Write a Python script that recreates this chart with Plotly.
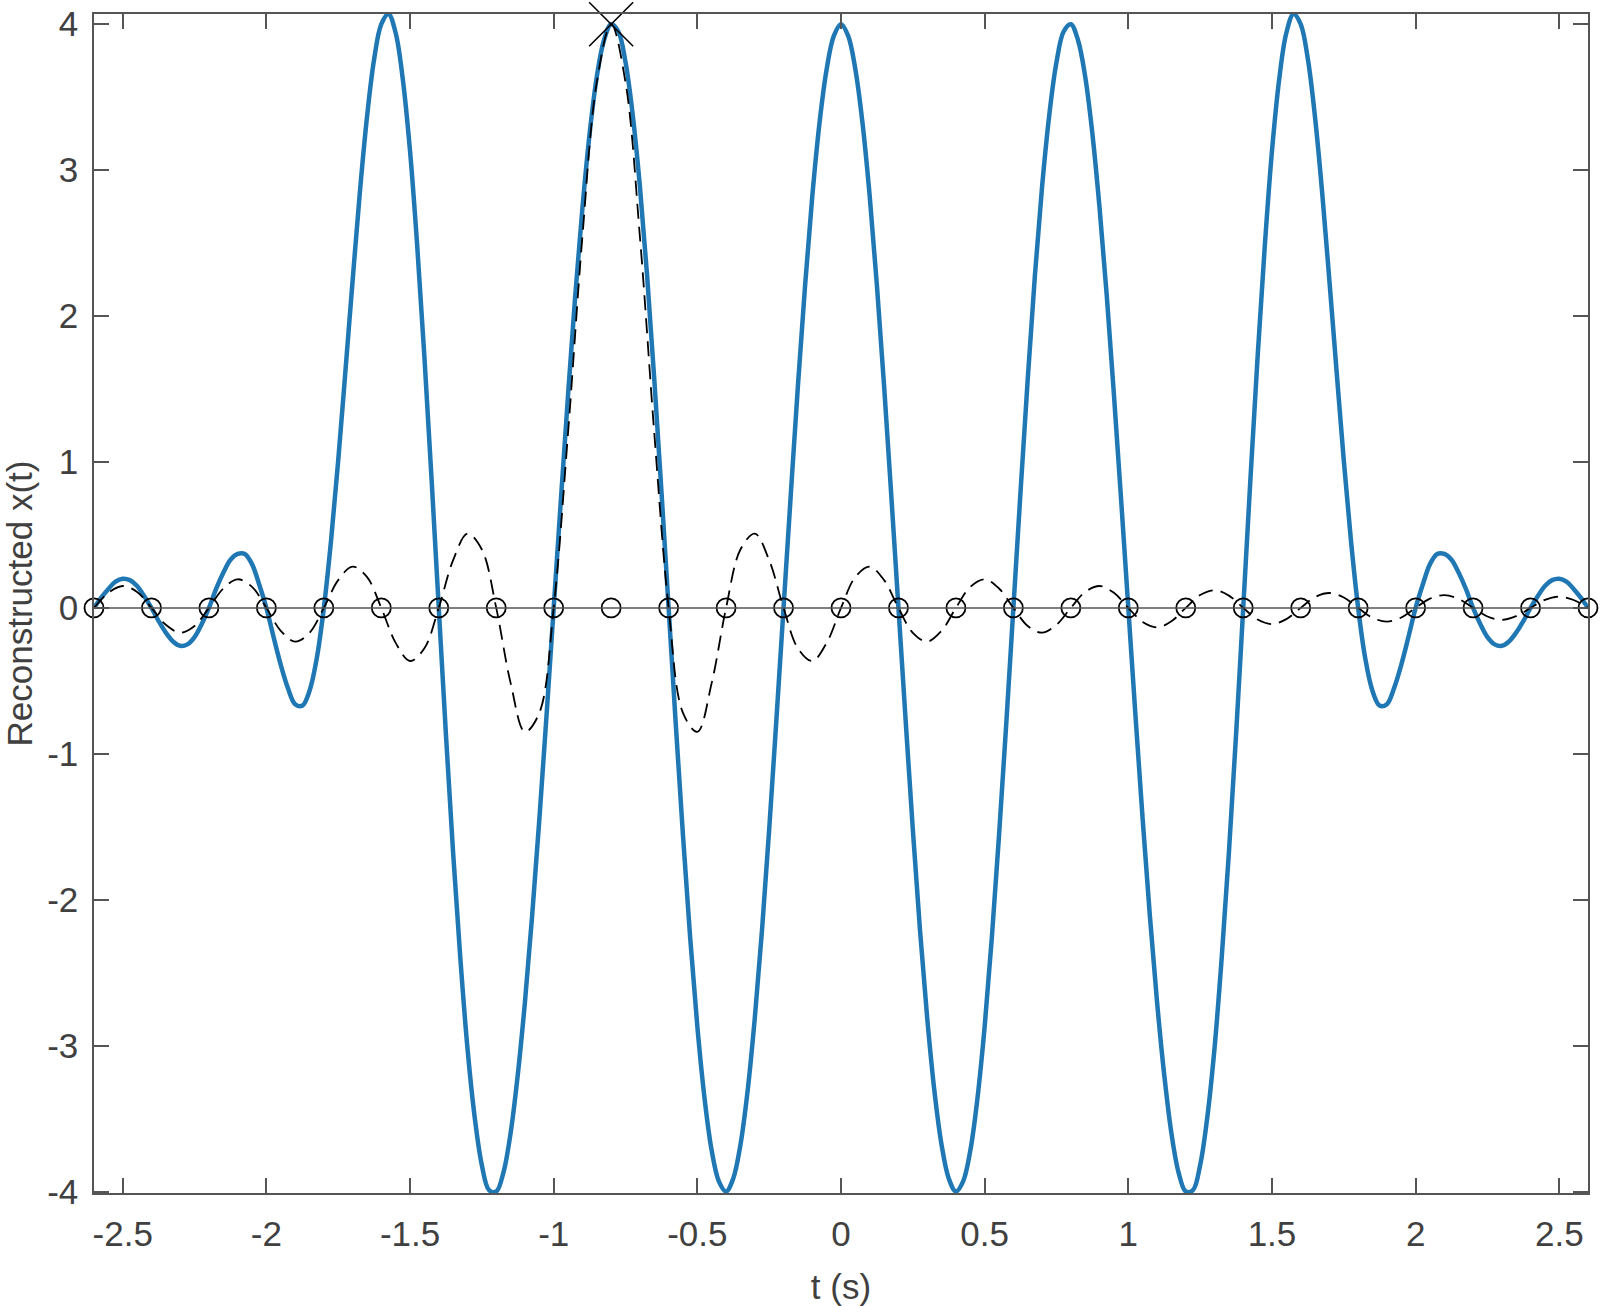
import plotly.graph_objects as go

# fine time grid for the reconstructed signal (s)
t_fine = [-2.6, -2.575, -2.55, -2.525, -2.5, -2.475, -2.45, -2.425, -2.4, -2.375, -2.35, -2.325,
          -2.3, -2.275, -2.25, -2.225, -2.2, -2.175, -2.15, -2.125, -2.1, -2.075, -2.05, -2.025,
          -2.0, -1.975, -1.95, -1.925, -1.9, -1.875, -1.85, -1.825, -1.8, -1.775, -1.75, -1.725,
          -1.7, -1.675, -1.65, -1.625, -1.6, -1.575, -1.55, -1.525, -1.5, -1.475, -1.45, -1.425,
          -1.4, -1.375, -1.35, -1.325, -1.3, -1.275, -1.25, -1.225, -1.2, -1.175, -1.15, -1.125,
          -1.1, -1.075, -1.05, -1.025, -1.0, -0.975, -0.95, -0.925, -0.9, -0.875, -0.85, -0.825,
          -0.8, -0.775, -0.75, -0.725, -0.7, -0.675, -0.65, -0.625, -0.6, -0.575, -0.55, -0.525,
          -0.5, -0.475, -0.45, -0.425, -0.4, -0.375, -0.35, -0.325, -0.3, -0.275, -0.25, -0.225,
          -0.2, -0.175, -0.15, -0.125, -0.1, -0.075, -0.05, -0.025, 0.0,
          0.025, 0.05, 0.075, 0.1, 0.125, 0.15, 0.175, 0.2, 0.225, 0.25, 0.275, 0.3,
          0.325, 0.35, 0.375, 0.4, 0.425, 0.45, 0.475, 0.5, 0.525, 0.55, 0.575, 0.6,
          0.625, 0.65, 0.675, 0.7, 0.725, 0.75, 0.775, 0.8, 0.825, 0.85, 0.875, 0.9,
          0.925, 0.95, 0.975, 1.0, 1.025, 1.05, 1.075, 1.1, 1.125, 1.15, 1.175, 1.2,
          1.225, 1.25, 1.275, 1.3, 1.325, 1.35, 1.375, 1.4, 1.425, 1.45, 1.475, 1.5,
          1.525, 1.55, 1.575, 1.6, 1.625, 1.65, 1.675, 1.7, 1.725, 1.75, 1.775, 1.8,
          1.825, 1.85, 1.875, 1.9, 1.925, 1.95, 1.975, 2.0, 2.025, 2.05, 2.075, 2.1,
          2.125, 2.15, 2.175, 2.2, 2.225, 2.25, 2.275, 2.3, 2.325, 2.35, 2.375, 2.4,
          2.425, 2.45, 2.475, 2.5, 2.525, 2.55, 2.575, 2.6]

# reconstructed x(t) (blue)
x_rec = [0.0, 0.07, 0.13, 0.18, 0.20, 0.19, 0.15, 0.08, 0.0, -0.09, -0.17, -0.23,
         -0.26, -0.25, -0.20, -0.11, 0.0, 0.13, 0.24, 0.33, 0.37, 0.37, 0.30, 0.16,
         0.0, -0.20, -0.39, -0.55, -0.66, -0.67, -0.57, -0.35, 0.0, 0.46, 1.01, 1.62,
         2.24, 2.84, 3.36, 3.76, 4.00, 4.07, 3.94, 3.62, 3.13, 2.48, 1.72, 0.88,
         0.0, -0.87, -1.68, -2.40, -3.02, -3.49, -3.82, -3.99, -4.00, -3.87, -3.60, -3.20,
         -2.70, -2.11, -1.45, -0.74, 0.0, 0.74, 1.46, 2.14, 2.74, 3.25, 3.64, 3.89,
         4.00, 3.95, 3.74, 3.38, 2.89, 2.28, 1.57, 0.80, 0.0, -0.80, -1.56, -2.26,
         -2.87, -3.36, -3.72, -3.93, -4.00, -3.91, -3.68, -3.31, -2.81, -2.21, -1.52, -0.77,
         0.0, 0.77, 1.52, 2.21, 2.82, 3.32, 3.69, 3.92, 4.00,
         3.92, 3.69, 3.32, 2.82, 2.21, 1.52, 0.77, 0.0, -0.77, -1.52, -2.21, -2.81,
         -3.31, -3.68, -3.91, -4.00, -3.93, -3.72, -3.36, -2.87, -2.26, -1.56, -0.80, 0.0,
         0.80, 1.57, 2.28, 2.89, 3.38, 3.74, 3.95, 4.00, 3.89, 3.64, 3.25, 2.74,
         2.14, 1.46, 0.74, 0.0, -0.74, -1.45, -2.11, -2.70, -3.20, -3.60, -3.87, -4.00,
         -3.99, -3.82, -3.49, -3.02, -2.40, -1.68, -0.87, 0.0, 0.88, 1.72, 2.48, 3.13,
         3.62, 3.94, 4.07, 4.00, 3.76, 3.36, 2.84, 2.24, 1.62, 1.01, 0.46, 0.0,
         -0.35, -0.57, -0.67, -0.66, -0.55, -0.39, -0.20, 0.0, 0.16, 0.30, 0.37, 0.37,
         0.33, 0.24, 0.13, 0.0, -0.11, -0.20, -0.25, -0.26, -0.23, -0.17, -0.09, 0.0,
         0.08, 0.15, 0.19, 0.20, 0.18, 0.13, 0.07, 0.0]

# coarser grid for the single sinc pulse (s)
t_pulse = [-2.6, -2.55, -2.5, -2.45, -2.4, -2.35, -2.3, -2.25, -2.2, -2.15, -2.1, -2.05,
           -2.0, -1.95, -1.9, -1.85, -1.8, -1.75, -1.7, -1.65, -1.6, -1.55, -1.5, -1.45,
           -1.4, -1.35, -1.3, -1.25, -1.2, -1.15, -1.1, -1.05, -1.0, -0.95, -0.9, -0.85,
           -0.8, -0.75, -0.7, -0.65, -0.6, -0.55, -0.5, -0.45, -0.4, -0.35, -0.3, -0.25,
           -0.2, -0.15, -0.1, -0.05, 0.0, 0.05, 0.1, 0.15, 0.2, 0.25, 0.3, 0.35,
           0.4, 0.45, 0.5, 0.55, 0.6, 0.65, 0.7, 0.75, 0.8, 0.85, 0.9, 0.95,
           1.0, 1.05, 1.1, 1.15, 1.2, 1.25, 1.3, 1.35, 1.4, 1.45, 1.5, 1.55,
           1.6, 1.65, 1.7, 1.75, 1.8, 1.85, 1.9, 1.95, 2.0, 2.05, 2.1, 2.15,
           2.2, 2.25, 2.3, 2.35, 2.4, 2.45, 2.5, 2.55, 2.6]

# single sinc pulse centred on the marked sample (dashed)
x_pulse = [0.0, 0.103, 0.150, 0.109, 0.0, -0.116, -0.170, -0.124, 0.0, 0.133, 0.196, 0.144,
           0.0, -0.157, -0.231, -0.171, 0.0, 0.190, 0.283, 0.212, 0.0, -0.240, -0.364, -0.277,
           0.0, 0.327, 0.509, 0.400, 0.0, -0.514, -0.849, -0.720, 0.0, 1.200, 2.546, 3.601,
           4.0, 3.601, 2.546, 1.200, 0.0, -0.720, -0.849, -0.514, 0.0, 0.400, 0.509, 0.327,
           0.0, -0.277, -0.364, -0.240, 0.0, 0.212, 0.283, 0.190, 0.0, -0.171, -0.231, -0.157,
           0.0, 0.144, 0.196, 0.133, 0.0, -0.124, -0.170, -0.116, 0.0, 0.109, 0.150, 0.103,
           0.0, -0.097, -0.134, -0.092, 0.0, 0.088, 0.121, 0.084, 0.0, -0.080, -0.111, -0.077,
           0.0, 0.074, 0.102, 0.071, 0.0, -0.068, -0.094, -0.066, 0.0, 0.063, 0.088, 0.061,
           0.0, -0.059, -0.082, -0.057, 0.0, 0.055, 0.077, 0.054, 0.0]

# sample instants (circles) and their values
t_samp = [-2.6, -2.4, -2.2, -2.0, -1.8, -1.6, -1.4, -1.2, -1.0, -0.8, -0.6, -0.4, -0.2, 0.0,
          0.2, 0.4, 0.6, 0.8, 1.0, 1.2, 1.4, 1.6, 1.8, 2.0, 2.2, 2.4, 2.6]
x_samp = [0, 0, 0, 0, 0, 0, 0, 0, 0, 0, 0, 0, 0, 0,
          0, 0, 0, 0, 0, 0, 0, 0, 0, 0, 0, 0, 0]

# highlighted sample
t_mark = [-0.8]
x_mark = [4.0]

x_ticks = [-2.5, -2, -1.5, -1, -0.5, 0, 0.5, 1, 1.5, 2, 2.5]
x_ticktext = ['-2.5', '-2', '-1.5', '-1', '-0.5', '0', '0.5', '1', '1.5', '2', '2.5']
y_ticks = [-4, -3, -2, -1, 0, 1, 2, 3, 4]
y_ticktext = ['-4', '-3', '-2', '-1', '0', '1', '2', '3', '4']

assert len(t_fine) == len(x_rec)
assert len(t_pulse) == len(x_pulse)

axis_col = '#555555'
text_col = '#404040'
font_family = 'Liberation Sans, Arial, sans-serif'

fig = go.Figure()

fig.add_trace(go.Scatter(
    x=t_fine, y=x_rec, mode='lines',
    line=dict(color='#1f77b4', width=4.5, shape='spline', smoothing=1.0),
    hoverinfo='skip'))

fig.add_trace(go.Scatter(
    x=t_pulse, y=x_pulse, mode='lines',
    line=dict(color='black', width=1.8, dash='15px,8px', shape='spline', smoothing=1.0),
    hoverinfo='skip'))

fig.add_hline(y=0, line=dict(color=axis_col, width=1.5))

fig.add_trace(go.Scatter(
    x=t_samp, y=x_samp, mode='markers',
    marker=dict(symbol='circle-open', size=19, color='black', line=dict(width=1.8)),
    cliponaxis=False))

fig.add_trace(go.Scatter(
    x=t_mark, y=x_mark, mode='markers',
    marker=dict(symbol='x-thin-open', size=44, color='black', line=dict(width=1.6, color='black')),
    cliponaxis=False))

axis_common = dict(
    showline=True, linecolor=axis_col, linewidth=1.5, mirror='ticks',
    ticks='inside', ticklen=15, tickwidth=1.5, tickcolor=axis_col,
    showgrid=False, zeroline=False, automargin=False,
    ticklabeloverflow='allow',
    tickfont=dict(family=font_family, size=35, color=text_col),
)

fig.update_xaxes(
    range=[-2.6, 2.6], tickvals=x_ticks, ticktext=x_ticktext,
    ticklabelstandoff=9,
    title=dict(text='t (s)', standoff=23, font=dict(family=font_family, size=35, color=text_col)),
    **axis_common)

fig.update_yaxes(
    range=[-4.01, 4.07], tickvals=y_ticks, ticktext=y_ticktext,
    ticklabelstandoff=7,
    title=dict(text='Reconstructed x(t)', standoff=24,
               font=dict(family=font_family, size=35, color=text_col)),
    **axis_common)

fig.update_layout(
    width=1600, height=1306,
    margin=dict(l=94, r=12, t=14, b=113),
    plot_bgcolor='white', paper_bgcolor='white',
    showlegend=False,
)

# drop the default page margin so the figure fills the window exactly
fig.write_html("out.html", config={'displayModeBar': False},
               post_script="document.body.style.margin = '0';")
